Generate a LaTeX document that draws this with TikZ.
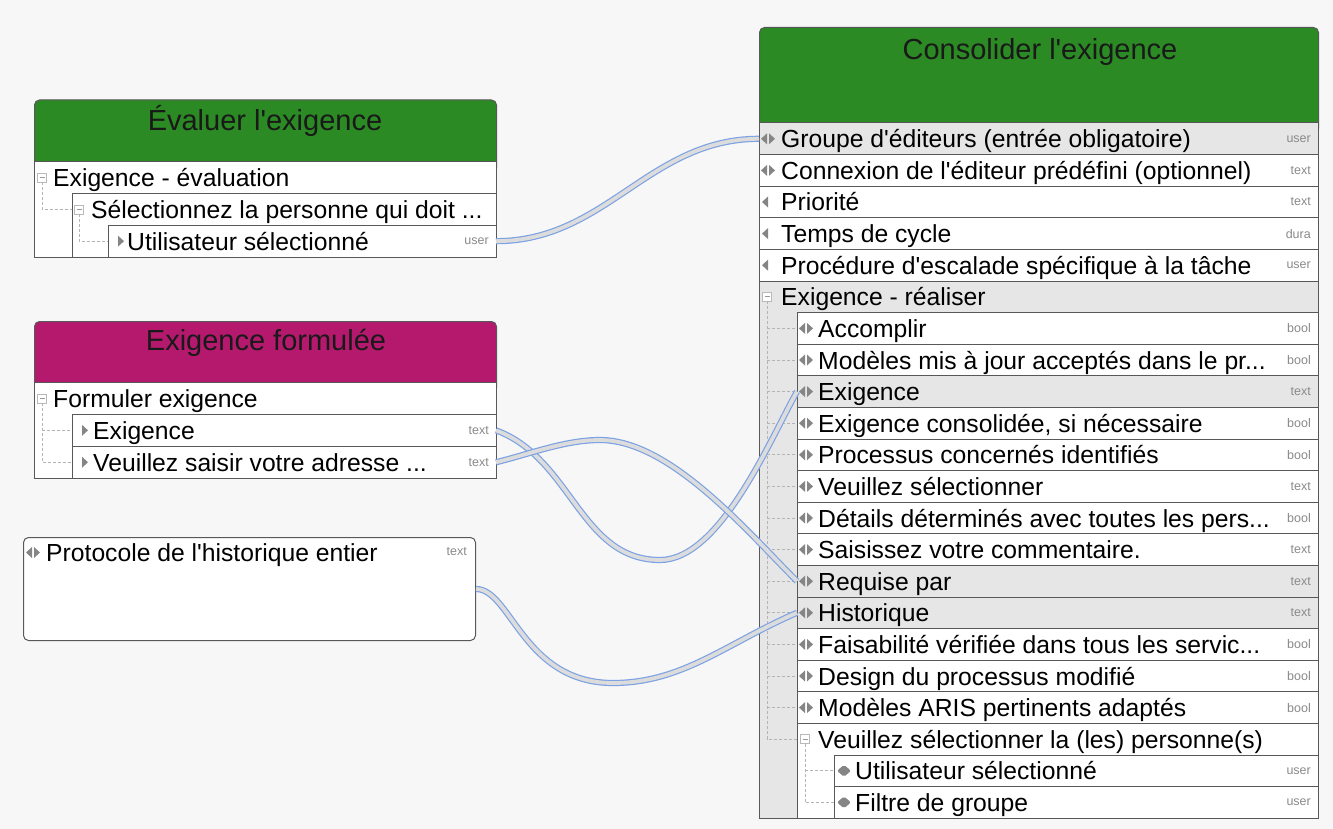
\documentclass[tikz,border=0pt]{standalone}
\usepackage{fontspec}
\setmainfont{Liberation Sans}
\newfontfamily\af{Liberation Sans}
\definecolor{bgc}{HTML}{F7F7F7}
\definecolor{arisgreen}{HTML}{2B8A24}
\definecolor{arismag}{HTML}{B5196E}
\definecolor{bord}{HTML}{585858}
\definecolor{hl}{HTML}{E6E6E6}
\definecolor{icog}{HTML}{858585}
\definecolor{treeg}{HTML}{B4B4B4}
\definecolor{typg}{HTML}{8A8A8A}
\definecolor{cblue}{HTML}{7DA2E3}
\definecolor{cfill}{HTML}{DCDCDC}
\tikzset{
 rowbox/.style={draw=bord, line width=1pt, anchor=north west, minimum height=31.6pt, inner sep=0pt, outer sep=0pt},
 rowtxt/.style={anchor=west, inner sep=0pt, text height=18pt, text depth=0pt, font={\af\fontsize{24.7}{28}\selectfont}},
 typtxt/.style={anchor=east, inner sep=0pt, text=typg, font={\af\fontsize{12.5}{14}\selectfont}},
 titletxt/.style={anchor=base, inner sep=0pt, text=black!90, font={\af\fontsize{29}{33}\selectfont}},
 hdr/.style={draw=bord, line width=1pt, rounded corners=5pt, anchor=north west, inner sep=0pt},
 tree/.style={draw=treeg, dash pattern=on 3pt off 2pt, line width=1pt},
 conn/.style={draw=cblue, line width=1.2pt, double=cfill, double distance=3.8pt},
 icobi/.pic={\fill[icog] (2,0) -- (8,-5.5) -- (8,5.5) -- cycle; \fill[icog] (10,-5.5) -- (10,5.5) -- (16,0) -- cycle;},
 icolt/.pic={\fill[icog] (3,0) -- (9,-5.5) -- (9,5.5) -- cycle;},
 icort/.pic={\fill[icog] (10,-5.5) -- (10,5.5) -- (16,0) -- cycle;},
 icodm/.pic={\fill[icog, rounded corners=2pt] (3,0) -- (10,-6) -- (17,0) -- (10,6) -- cycle;},
 icomn/.pic={\draw[draw=gray!55, fill=white, line width=0.8pt] (3.5,-4.5) rectangle (12.5,4.5); \draw[gray!80, line width=1pt] (5.5,0) -- (10.5,0);},
}
\begin{document}
\begin{tikzpicture}[x=1pt, y=-1pt]
\useasboundingbox (0,0) rectangle (1333,829);
\fill[bgc] (0,0) rectangle (1333,829);

% ---------- left box 1 : Evaluer l'exigence
\node[hdr, fill=arisgreen, minimum width=462pt, minimum height=73pt] (h1) at (34,99.5) {};
\node[titletxt] (h1t) at (265,130.5) {Évaluer l'exigence};
\node[rowbox, fill=white, minimum width=462pt, minimum height=95pt] (l1g) at (34,162) {};
\pic at (34,177.8) {icomn};
\node[rowtxt] (l1t1) at (53,177.8) {Exigence - évaluation};
\node[rowbox, fill=white, minimum width=424pt, minimum height=63.33pt] (l1g2) at (72,193.67) {};
\pic at (71,209.5) {icomn};
\node[rowtxt] (l1t2) at (91,209.5) {Sélectionnez la personne qui doit ...};
\node[rowbox, fill=white, minimum width=388pt, minimum height=31.67pt] (l1r3) at (108,225.33) {};
\pic at (l1r3.west) {icort};
\node[rowtxt] (l1t3) at ([xshift=19pt]l1r3.west) {Utilisateur sélectionné};
\node[typtxt] (l1y3) at ([xshift=-7pt]l1r3.east) {user};
\draw[tree] (42,182.3) -- (42,209.5) -- (72,209.5);
\draw[tree] (79,214) -- (79,241.2) -- (108,241.2);

% ---------- left box 2 : Exigence formulee
\node[hdr, fill=arismag, minimum width=462pt, minimum height=71pt] (h2) at (34,321) {};
\node[titletxt] (h2t) at (266,350) {Exigence formulée};
\node[rowbox, fill=white, minimum width=462pt, minimum height=95.7pt] (l2g) at (34,382.5) {};
\pic at (34,398.4) {icomn};
\node[rowtxt] (l2t0) at (53,398.4) {Formuler exigence};
\draw[tree] (42,403) -- (42,462.25) -- (72,462.25);
\draw[tree] (42,430.35) -- (72,430.35);
\node[rowbox, fill=white, minimum width=424pt, minimum height=31.9pt] (l2r1) at (72,414.4) {};
\pic at (l2r1.west) {icort};
\node[rowtxt] (l2t1) at ([xshift=21pt]l2r1.west) {Exigence};
\node[typtxt] (l2y1) at ([xshift=-7pt]l2r1.east) {text};
\node[rowbox, fill=white, minimum width=424pt, minimum height=31.9pt] (l2r2) at (72,446.3) {};
\pic at (l2r2.west) {icort};
\node[rowtxt] (l2t2) at ([xshift=21pt]l2r2.west) {Veuillez saisir votre adresse ...};
\node[typtxt] (l2y2) at ([xshift=-7pt]l2r2.east) {text};

% ---------- left box 3 : Protocole
\node[draw=bord, line width=1pt, rounded corners=5pt, fill=white, anchor=north west, minimum width=452pt, minimum height=103pt, inner sep=0pt] (b3) at (23,537) {};
\pic at (24,552.5) {icobi};
\node[rowtxt] (b3t) at (46,552.5) {Protocole de l'historique entier};
\node[typtxt] (b3y) at (467,552) {text};

% ---------- right box : Consolider l'exigence
\node[hdr, fill=arisgreen, minimum width=559pt, minimum height=106pt] (rh) at (759,27) {};
\node[titletxt] (rht) at (1040,60) {Consolider l'exigence};

\foreach \k/\xo/\w/\txt/\ic/\ty/\fc in {
 0/759/559/{Groupe d'éditeurs (entrée obligatoire)}/icobi/user/hl,
 1/759/559/{Connexion de l'éditeur prédéfini (optionnel)}/icobi/text/white,
 2/759/559/{Priorité}/icolt/text/white,
 3/759/559/{Temps de cycle}/icolt/dura/white,
 4/759/559/{Procédure d'escalade spécifique à la tâche}/icolt/user/white}{
 \pgfmathsetmacro{\yt}{123+31.6*\k}
 \node[rowbox, fill=\fc, minimum width=\w pt] (r\k) at (\xo,\yt) {};
 \edef\tmp{\noexpand\pic at (r\k.west) {\ic};}\tmp
 \node[rowtxt] (rt\k) at ([xshift=22pt]r\k.west) {\txt};
 \node[typtxt] (ry\k) at ([xshift=-7pt]r\k.east) {\ty};
}

% group Exigence - realiser
\node[rowbox, fill=hl, minimum width=559pt, minimum height=537.2pt] (rg1) at (759,281) {};
\pic at (759,296.8) {icomn};
\node[rowtxt] (rt5) at (781,296.8) {Exigence - réaliser};
\draw[tree] (767,301.3) -- (767,739.2) -- (797,739.2);
\foreach \k in {6,...,18}{
 \pgfmathsetmacro{\yc}{123+31.6*\k+15.8}
 \draw[tree] (767,\yc) -- (797,\yc);
}

\foreach \k/\xo/\w/\txt/\ic/\ty/\fc in {
 6/797/521/{Accomplir}/icobi/bool/white,
 7/797/521/{Modèles mis à jour acceptés dans le pr...}/icobi/bool/white,
 8/797/521/{Exigence}/icobi/text/hl,
 9/797/521/{Exigence consolidée, si nécessaire}/icobi/bool/white,
 10/797/521/{Processus concernés identifiés}/icobi/bool/white,
 11/797/521/{Veuillez sélectionner}/icobi/text/white,
 12/797/521/{Détails déterminés avec toutes les pers...}/icobi/bool/white,
 13/797/521/{Saisissez votre commentaire.}/icobi/text/white,
 14/797/521/{Requise par}/icobi/text/hl,
 15/797/521/{Historique}/icobi/text/hl,
 16/797/521/{Faisabilité vérifiée dans tous les servic...}/icobi/bool/white,
 17/797/521/{Design du processus modifié}/icobi/bool/white,
 18/797/521/{Modèles ARIS pertinents adaptés}/icobi/bool/white}{
 \pgfmathsetmacro{\yt}{123+31.6*\k}
 \node[rowbox, fill=\fc, minimum width=\w pt] (r\k) at (\xo,\yt) {};
 \edef\tmp{\noexpand\pic at (r\k.west) {\ic};}\tmp
 \node[rowtxt] (rt\k) at ([xshift=21pt]r\k.west) {\txt};
 \node[typtxt] (ry\k) at ([xshift=-7pt]r\k.east) {\ty};
}

% group Veuillez selectionner la (les) personne(s)
\node[rowbox, fill=white, minimum width=521pt, minimum height=94.8pt] (rg2) at (797,723.4) {};
\pic at (797,739.2) {icomn};
\node[rowtxt] (rt19) at (818,739.2) {Veuillez sélectionner la (les) personne(s)};
\draw[tree] (805,743.7) -- (805,802.4) -- (834,802.4);
\draw[tree] (805,770.8) -- (834,770.8);

\foreach \k/\xo/\w/\txt/\ic/\ty/\fc in {
 20/834/484/{Utilisateur sélectionné}/icodm/user/white,
 21/834/484/{Filtre de groupe}/icodm/user/white}{
 \pgfmathsetmacro{\yt}{123+31.6*\k}
 \node[rowbox, fill=\fc, minimum width=\w pt] (r\k) at (\xo,\yt) {};
 \edef\tmp{\noexpand\pic at (r\k.west) {\ic};}\tmp
 \node[rowtxt] (rt\k) at ([xshift=21pt]r\k.west) {\txt};
 \node[typtxt] (ry\k) at ([xshift=-7pt]r\k.east) {\ty};
}

% ---------- connectors
\coordinate (v1) at (660,560);
\coordinate (v2) at (600,440);
\coordinate (v3) at (613,683);
\draw[conn] (l1r3.east) .. controls +(110,0) and +(-110,0) .. (r0.west);
\draw[conn] (l2r1.east) .. controls +(76,28) and +(-80,0) .. (v1) .. controls +(60,0) and +(-27,48) .. (r8.west);
\draw[conn] (l2r2.east) .. controls +(33,-8) and +(-35,0) .. (v2) .. controls +(70,0) and +(-50,-50) .. (r14.west);
\draw[conn] (b3.east) .. controls +(35,0) and +(-90,0) .. (v3) .. controls +(70,0) and +(-70,30) .. (r15.west);
\end{tikzpicture}
\end{document}
